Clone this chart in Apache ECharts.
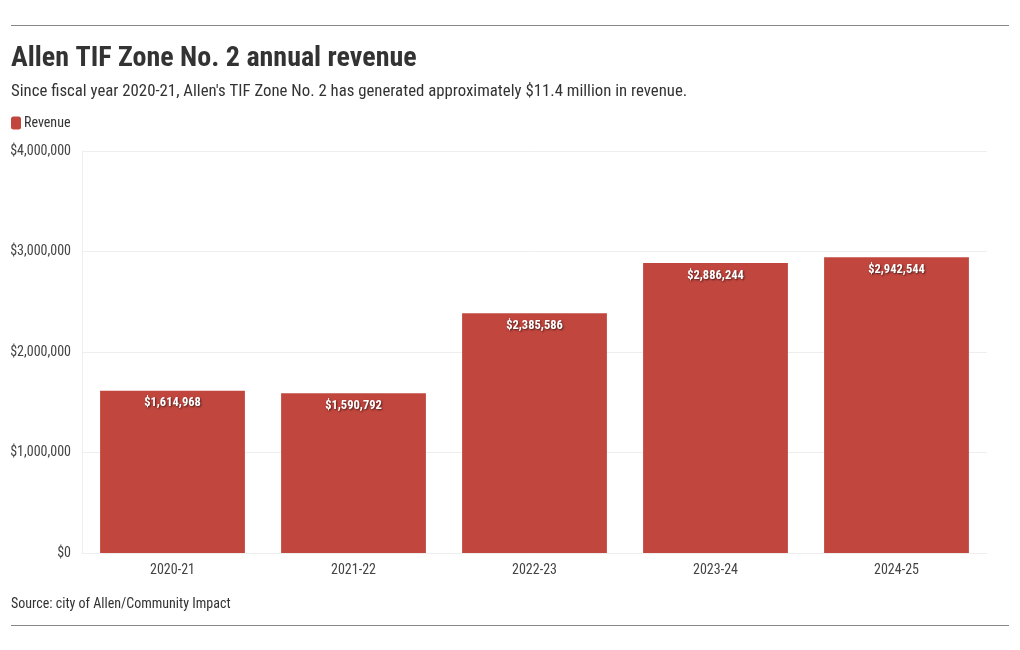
<!DOCTYPE html>
<html><head><meta charset="utf-8">
<script src="https://cdn.jsdelivr.net/npm/echarts@6/dist/echarts.min.js"></script>
<style>html,body{margin:0;padding:0;background:#fff}#c{width:1020px;height:650px}</style>
</head><body><div id="c"></div>
<script>
const categories = ['2020-21','2021-22','2022-23','2023-24','2024-25'];
const revenue = [1614968, 1590792, 2385586, 2886244, 2942544];
const yTicks = [0, 1000000, 2000000, 3000000, 4000000];
const FONT = '"Roboto Condensed", "Liberation Sans Narrow", "DejaVu Sans Condensed", Roboto, sans-serif';
const fmt = v => '$' + v.toLocaleString('en-US');
const chart = echarts.init(document.getElementById('c'));
chart.setOption({
  animation: false,
  textStyle: { fontFamily: FONT },
  title: [
    { text: 'Allen TIF Zone No. 2 annual revenue', left: 6, top: 40,
      textStyle: { fontFamily: FONT, fontSize: 28, fontWeight: 'bold', color: '#333' } },
    { text: "Since fiscal year 2020-21, Allen's TIF Zone No. 2 has generated approximately $11.4 million in revenue.", left: 6, top: 78,
      textStyle: { fontFamily: FONT, fontSize: 16.8, fontWeight: 'normal', color: '#333' } },
    { text: 'Source: city of Allen/Community Impact', left: 6, top: 592,
      textStyle: { fontFamily: FONT, fontSize: 14, fontWeight: 'normal', color: '#333' } }
  ],
  legend: { left: 6, top: 111, itemWidth: 10, itemHeight: 13, itemGap: 10,
    icon: 'roundRect', data: ['Revenue'],
    textStyle: { fontFamily: FONT, fontSize: 14, color: '#333', padding: [0,0,0,-2] } },
  graphic: [
    { type: 'line', shape: { x1: 11, y1: 25.5, x2: 1009, y2: 25.5 }, style: { stroke: '#888', lineWidth: 1 } },
    { type: 'line', shape: { x1: 11, y1: 625.5, x2: 1009, y2: 625.5 }, style: { stroke: '#888', lineWidth: 1 } }
  ],
  grid: { left: 82, right: 33, top: 151, bottom: 97 },
  xAxis: { type: 'category', data: categories,
    axisLine: { show: true, lineStyle: { color: '#eee' } }, axisTick: { show: false },
    axisLabel: { fontFamily: FONT, fontSize: 14, color: '#444', margin: 10 } },
  yAxis: { type: 'value', min: 0, max: 4000000, interval: 1000000,
    axisLine: { show: true, lineStyle: { color: '#eee' } }, axisTick: { show: false },
    splitLine: { lineStyle: { color: '#eee' } },
    axisLabel: { fontFamily: FONT, fontSize: 14, color: '#444', margin: 11, padding: [2,0,0,0],
      formatter: v => yTicks.includes(v) ? fmt(v) : '' } },
  series: [{ name: 'Revenue', type: 'bar', data: revenue, barCategoryGap: '20%',
    itemStyle: { color: '#c1463e' },
    label: { show: true, position: 'insideTop', distance: 6, formatter: p => fmt(p.value),
      fontFamily: FONT, fontSize: 12.5, fontWeight: 'bold', color: '#fff',
      textShadowColor: 'rgba(0,0,0,0.6)', textShadowBlur: 2, textShadowOffsetX: 1, textShadowOffsetY: 1 } }]
});
</script></body></html>
